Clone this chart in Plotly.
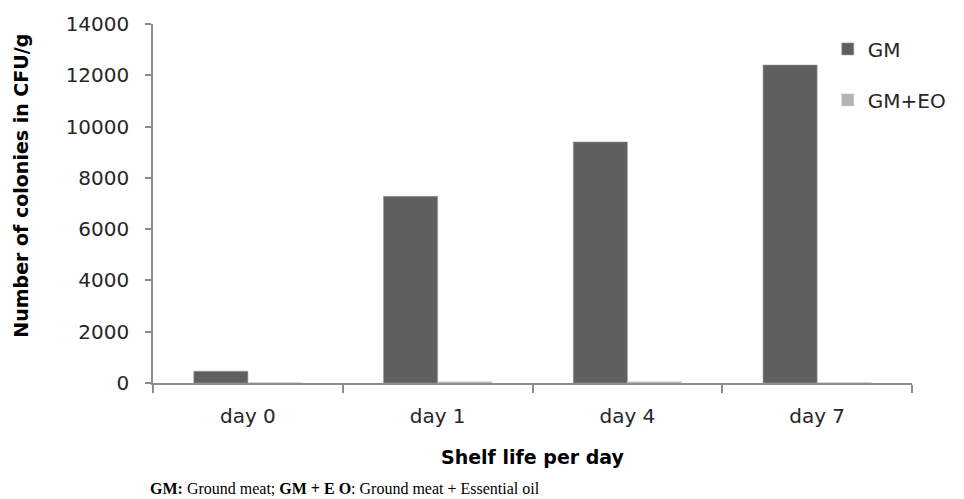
import plotly.graph_objects as go

# Shelf-life colony counts (CFU/g)
days = ["day 0", "day 1", "day 4", "day 7"]
gm_counts = [460, 7280, 9400, 12400]
gm_eo_counts = [8, 45, 45, 8]
y_ticks = [0, 2000, 4000, 6000, 8000, 10000, 12000, 14000]
y_tick_labels = [str(v) for v in y_ticks]

FONT = "'DejaVu Sans', sans-serif"
TEXT = "#262626"
AXIS = "#8c8c8c"

fig = go.Figure()
fig.add_trace(go.Bar(
    x=days, y=gm_counts, name="GM", legendgroup="gm",
    marker=dict(color="#5f5f5f", line=dict(color="#9a9a9a", width=0.6)),
))
fig.add_trace(go.Bar(
    x=days, y=gm_eo_counts, name="GM+EO", legendgroup="gmeo",
    marker=dict(color="#b3b3b3", line=dict(color="#c8c8c8", width=0.6)),
))

fig.update_layout(
    width=964, height=499,
    margin=dict(l=153, r=52, t=21, b=116),
    paper_bgcolor="white", plot_bgcolor="white",
    barmode="group", bargap=0.43, bargroupgap=0,
    font=dict(family=FONT, color=TEXT, size=19),
    showlegend=True,
    legend=dict(
        x=0.889, y=0.985, xanchor="left", yanchor="top",
        xref="paper", yref="paper",
        font=dict(size=20, family=FONT, color=TEXT),
        tracegroupgap=22, bgcolor="rgba(0,0,0,0)",
        itemwidth=30,
    ),
    xaxis=dict(
        showline=True, linecolor=AXIS, linewidth=1.5,
        ticks="outside", tickson="boundaries", ticklen=8,
        tickcolor=AXIS, tickwidth=1.5,
        tickfont=dict(size=20, family=FONT, color=TEXT),
        ticklabelstandoff=14,
        showgrid=False, zeroline=False,
    ),
    yaxis=dict(
        range=[0, 14000], tickvals=y_ticks, ticktext=y_tick_labels,
        showline=True, linecolor=AXIS, linewidth=1.5,
        ticks="outside", ticklen=6, tickcolor=AXIS, tickwidth=1.5,
        tickfont=dict(size=20, family=FONT, color=TEXT),
        ticklabelstandoff=12,
        showgrid=False, zeroline=False,
    ),
    annotations=[
        dict(text="<b>Number of colonies in CFU/g</b>", textangle=-90,
             x=21, y=184, xref="paper", yref="paper",
             font=dict(size=19, family=FONT, color="#000"),
             showarrow=False, xanchor="center", yanchor="middle"),
        dict(text="<b>Shelf life per day</b>",
             x=0.5, y=-0.205, xref="paper", yref="paper",
             font=dict(size=19, family=FONT, color="#000"),
             showarrow=False, xanchor="center", yanchor="middle"),
        dict(text="<b>GM:</b> Ground meat; <b>GM + E O</b>: Ground meat + Essential oil",
             x=148, y=489, xref="paper", yref="paper",
             font=dict(size=16, family="'Liberation Serif', 'DejaVu Serif', serif", color="#000"),
             showarrow=False, xanchor="left", yanchor="middle"),
    ],
)

# Annotations given in pixel terms are converted to paper fractions
plot_w = 964 - 153 - 52
plot_h = 499 - 21 - 116
for ann in fig.layout.annotations:
    if ann.x is not None and ann.x > 1.5:
        ann.x = (ann.x - 153) / plot_w
    if ann.y is not None and ann.y > 1.5:
        ann.y = (499 - 116 - ann.y) / plot_h

fig.write_html("out.html")
